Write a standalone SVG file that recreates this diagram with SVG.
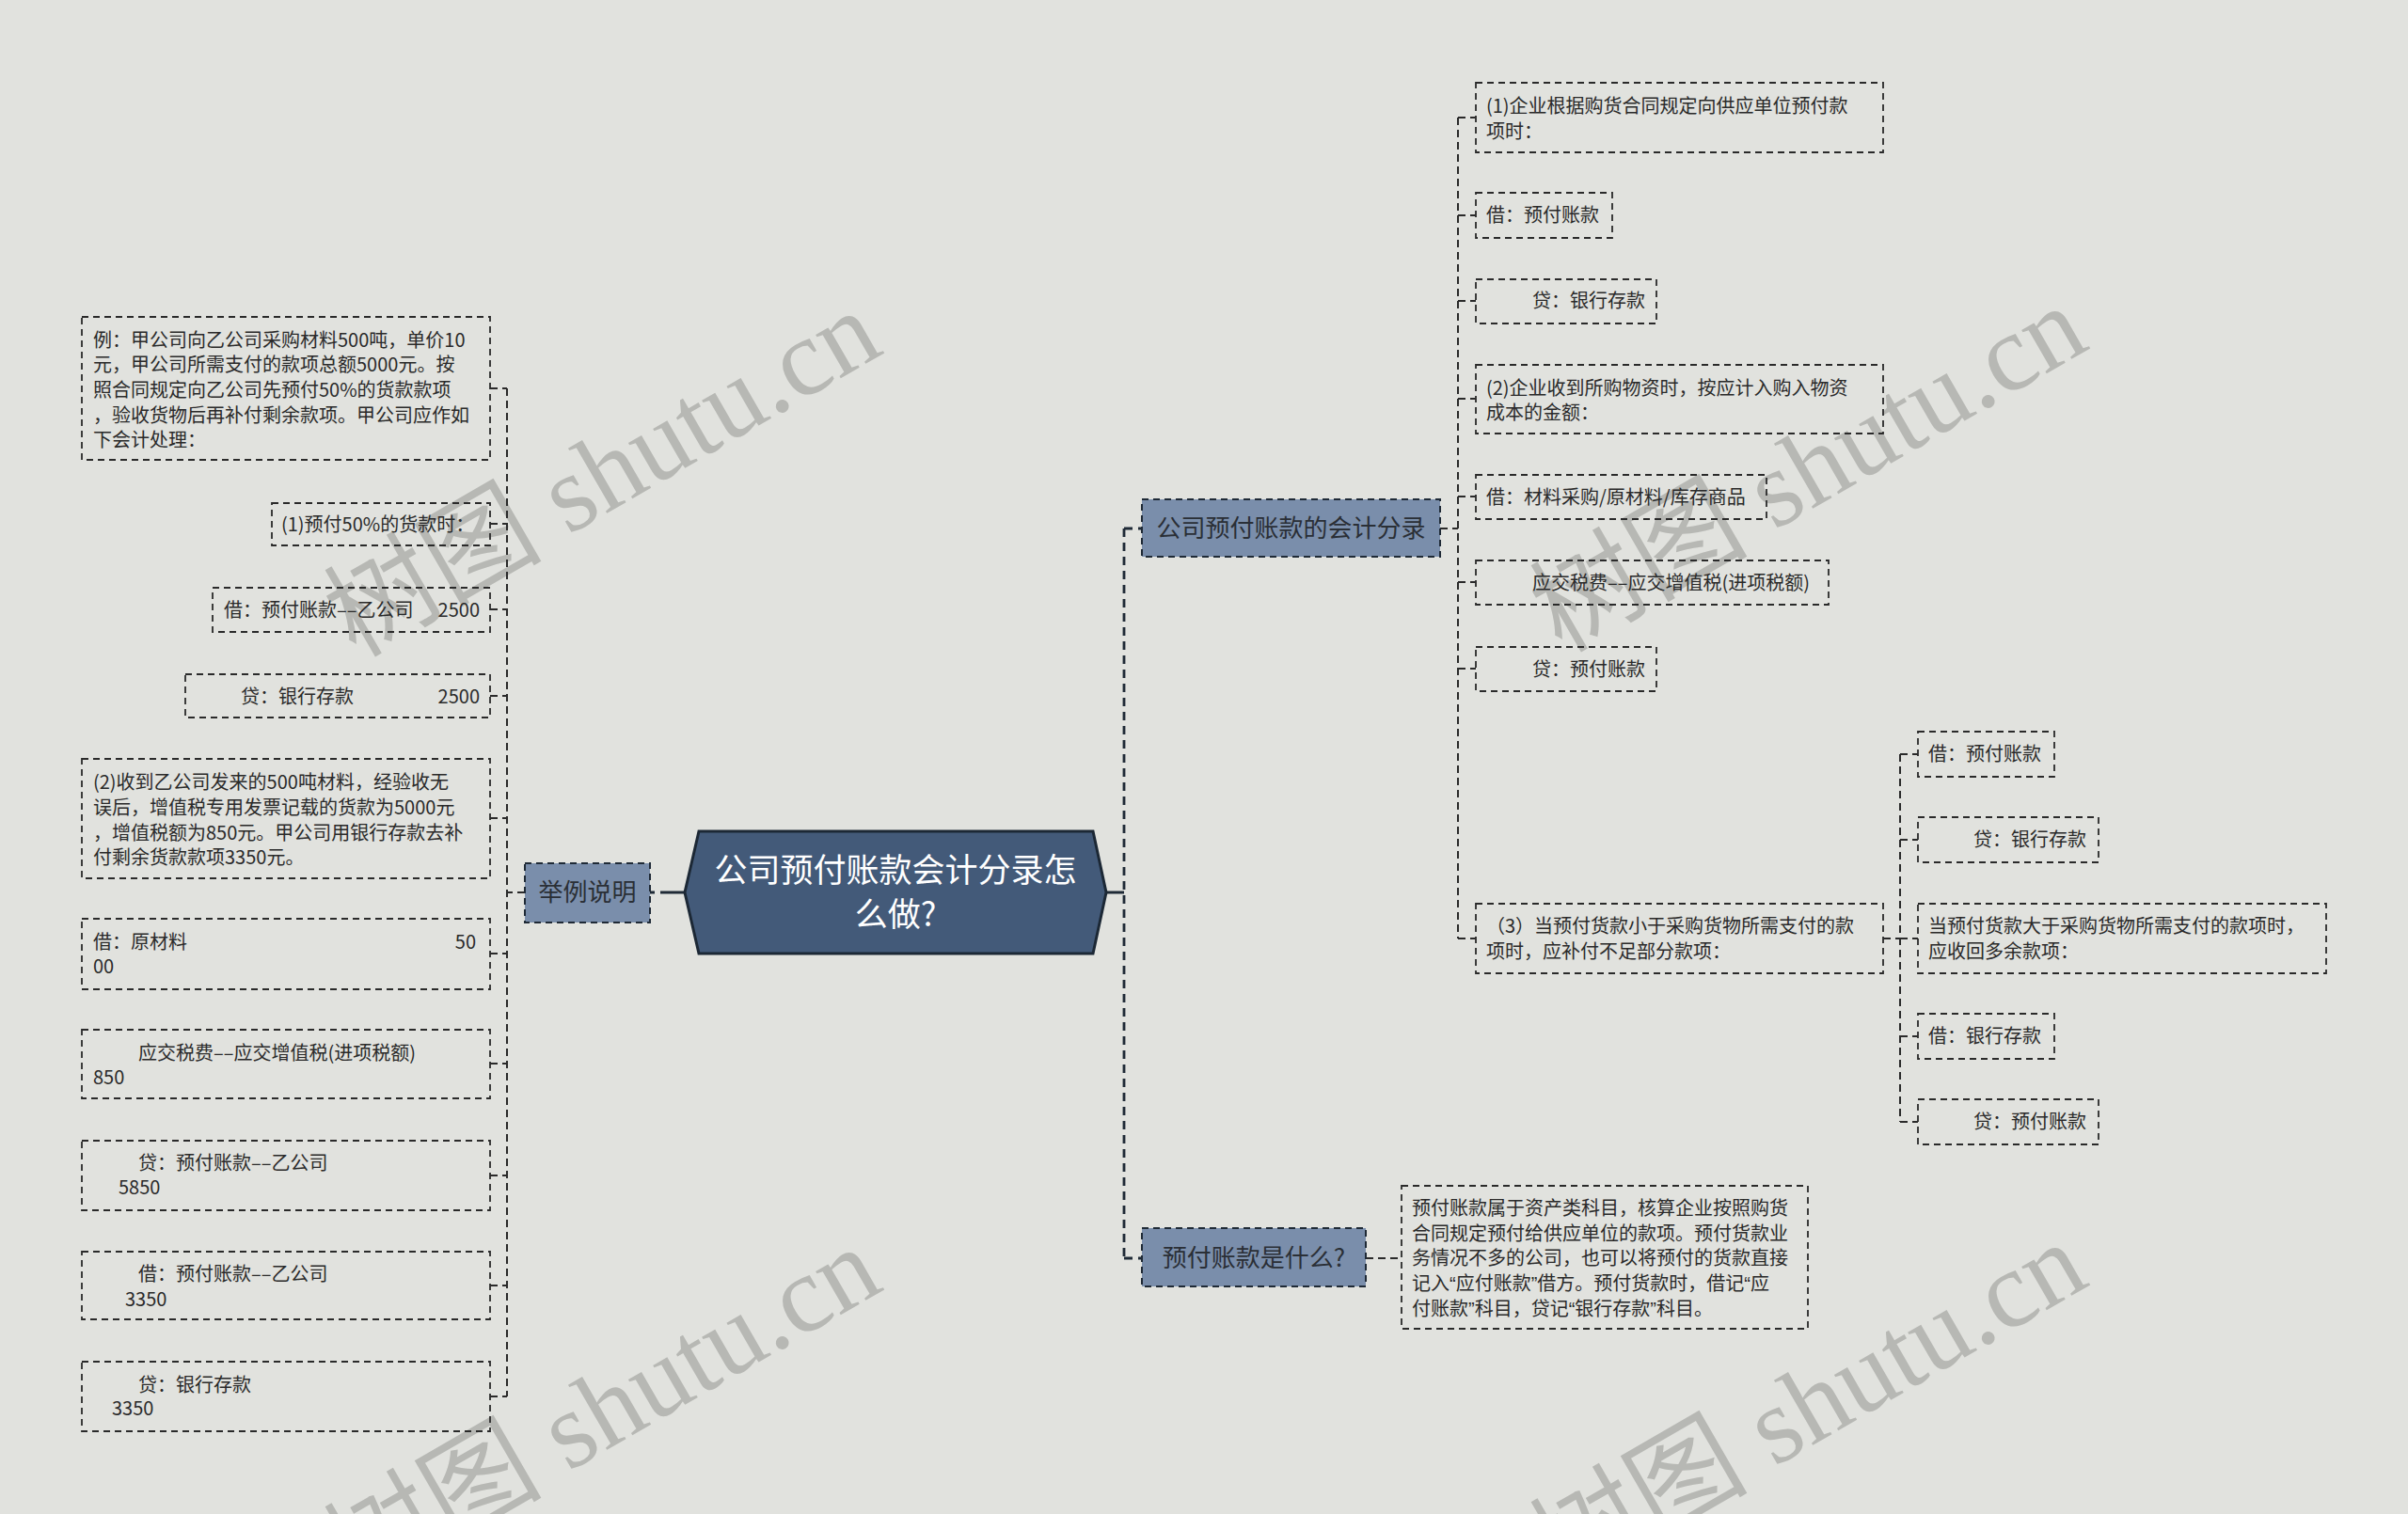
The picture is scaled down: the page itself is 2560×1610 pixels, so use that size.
<svg xmlns="http://www.w3.org/2000/svg" width="2560" height="1610" viewBox="0 0 2560 1610">
<style>
.bg{fill:#e1e2de}
.wm{font-family:"Liberation Serif","Noto Sans CJK SC",serif;font-size:116px;fill:#b7b8b4}
.leaf{fill:none;stroke:#2a2a2a;stroke-width:1.8;stroke-dasharray:7 5}
.t{font-family:"Noto Sans CJK SC","Noto Sans",sans-serif;font-size:20px;fill:#2a2a2a}
.q{font-family:"Liberation Sans",sans-serif}
.sub{fill:#7a8eab;stroke:#1f2a36;stroke-width:2;stroke-dasharray:7 5}
.st{font-family:"Noto Sans CJK SC","Noto Sans",sans-serif;font-size:26px;fill:#2a2f36;text-anchor:middle}
.root{fill:#435a79;stroke:#1c2835;stroke-width:3}
.rt{font-family:"Noto Sans CJK SC","Noto Sans",sans-serif;font-size:35px;fill:#ffffff;text-anchor:middle}
.c{fill:none;stroke:#2a2a2a;stroke-width:2;stroke-dasharray:8 5}
.cm{fill:none;stroke:#1f2a36;stroke-width:2.8;stroke-dasharray:9 6}
.cs{fill:none;stroke:#1f2a36;stroke-width:3}
</style>
<rect class="bg" x="0" y="0" width="2560" height="1610"/>
<g id="watermarks">
<text class="wm" transform="translate(378,700) rotate(-30)">树图 shutu.cn</text>
<text class="wm" transform="translate(1660,695) rotate(-30)">树图 shutu.cn</text>
<text class="wm" transform="translate(378,1696) rotate(-30)">树图 shutu.cn</text>
<text class="wm" transform="translate(1660,1691) rotate(-30)">树图 shutu.cn</text>
</g>
<g id="connectors">
<path class="cm" d="M1195,562 V1338 M1195,562 H1214 M1195,1338 H1214"/>
<path class="cs" d="M1176,949 H1195"/>
<path class="cs" d="M691,949 H728" style="stroke-dasharray:5 6 40"/>
<path class="c" d="M539,413 V1485 M558,949 H539"/>
<path class="c" d="M521,413 H539 M521,557 H539 M521,648 H539 M521,740 H539 M521,870 H539 M521,1014 H539 M521,1131 H539 M521,1250 H539 M521,1367 H539 M521,1485 H539"/>
<path class="c" d="M1531,562 H1550 M1550,125 V998 M1550,125 H1569 M1550,229 H1569 M1550,320 H1569 M1550,424 H1569 M1550,528 H1569 M1550,619 H1569 M1550,711 H1569 M1550,998 H1569"/>
<path class="c" d="M2002,998 H2020 M2020,802 V1193 M2020,802 H2039 M2020,893 H2039 M2020,998 H2039 M2020,1102 H2039 M2020,1193 H2039"/>
<path class="c" d="M1452,1338 H1490"/>
</g>
<g id="root">
<polygon class="root" points="728,949 743,884 1162,884 1176,949 1162,1014 743,1014"/>
<text class="rt" x="952" y="938">公司预付账款会计分录怎</text>
<text class="rt" x="952" y="985">么做?</text>
</g>
<g id="n-example">
<rect class="sub" x="558" y="918" width="133" height="63"/>
<text class="st" x="624.5" y="958">举例说明</text>
</g>
<g id="n-entries">
<rect class="sub" x="1214" y="531" width="317" height="61"/>
<text class="st" x="1372.5" y="571">公司预付账款的会计分录</text>
</g>
<g id="n-what">
<rect class="sub" x="1214" y="1306" width="238" height="62"/>
<text class="st" x="1333" y="1347">预付账款是什么?</text>
</g>
<g id="l1">
<rect class="leaf" x="87" y="337" width="434" height="152"/>
<text class="t"><tspan x="99" y="369">例：甲公司向乙公司采购材料500吨，单价10</tspan><tspan x="99" y="395">元，甲公司所需支付的款项总额5000元。按</tspan><tspan x="99" y="422">照合同规定向乙公司先预付50%的货款款项</tspan><tspan x="99" y="449">，验收货物后再补付剩余款项。甲公司应作如</tspan><tspan x="99" y="475">下会计处理：</tspan></text>
</g>
<g id="l2">
<rect class="leaf" x="289" y="535" width="232" height="45"/>
<text class="t" x="299" y="565">(1)预付50%的货款时：</text>
</g>
<g id="l3">
<rect class="leaf" x="226" y="625" width="295" height="47"/>
<text class="t"><tspan x="238" y="656">借：预付账款––乙公司</tspan><tspan x="510" y="656" text-anchor="end">2500</tspan></text>
</g>
<g id="l4">
<rect class="leaf" x="197" y="717" width="324" height="46"/>
<text class="t"><tspan x="256" y="748">贷：银行存款</tspan><tspan x="510" y="748" text-anchor="end">2500</tspan></text>
</g>
<g id="l5">
<rect class="leaf" x="87" y="807" width="434" height="127"/>
<text class="t"><tspan x="99" y="839">(2)收到乙公司发来的500吨材料，经验收无</tspan><tspan x="99" y="866">误后，增值税专用发票记载的货款为5000元</tspan><tspan x="99" y="893">，增值税额为850元。甲公司用银行存款去补</tspan><tspan x="99" y="919">付剩余货款款项3350元。</tspan></text>
</g>
<g id="l6">
<rect class="leaf" x="87" y="977" width="434" height="75"/>
<text class="t"><tspan x="99" y="1009">借：原材料</tspan><tspan x="506" y="1009" text-anchor="end">50</tspan><tspan x="99" y="1035">00</tspan></text>
</g>
<g id="l7">
<rect class="leaf" x="87" y="1095" width="434" height="73"/>
<text class="t"><tspan x="147" y="1127">应交税费––应交增值税(进项税额)</tspan><tspan x="99" y="1153">850</tspan></text>
</g>
<g id="l8">
<rect class="leaf" x="87" y="1213" width="434" height="74"/>
<text class="t"><tspan x="147" y="1244">贷：预付账款––乙公司</tspan><tspan x="126" y="1270">5850</tspan></text>
</g>
<g id="l9">
<rect class="leaf" x="87" y="1331" width="434" height="72"/>
<text class="t"><tspan x="147" y="1362">借：预付账款––乙公司</tspan><tspan x="133" y="1389">3350</tspan></text>
</g>
<g id="l10">
<rect class="leaf" x="87" y="1448" width="434" height="74"/>
<text class="t"><tspan x="147" y="1480">贷：银行存款</tspan><tspan x="119" y="1505">3350</tspan></text>
</g>
<g id="r1">
<rect class="leaf" x="1569" y="88" width="433" height="74"/>
<text class="t"><tspan x="1580" y="120">(1)企业根据购货合同规定向供应单位预付款</tspan><tspan x="1580" y="147">项时：</tspan></text>
</g>
<g id="r2">
<rect class="leaf" x="1569" y="205" width="145" height="48"/>
<text class="t" x="1580" y="236">借：预付账款</text>
</g>
<g id="r3">
<rect class="leaf" x="1569" y="297" width="192" height="47"/>
<text class="t" x="1629" y="327">贷：银行存款</text>
</g>
<g id="r4">
<rect class="leaf" x="1569" y="388" width="433" height="73"/>
<text class="t"><tspan x="1580" y="420">(2)企业收到所购物资时，按应计入购入物资</tspan><tspan x="1580" y="446">成本的金额：</tspan></text>
</g>
<g id="r5">
<rect class="leaf" x="1569" y="505" width="309" height="47"/>
<text class="t" x="1580" y="536">借：材料采购/原材料/库存商品</text>
</g>
<g id="r6">
<rect class="leaf" x="1569" y="596" width="375" height="47"/>
<text class="t" x="1629" y="627">应交税费––应交增值税(进项税额)</text>
</g>
<g id="r7">
<rect class="leaf" x="1569" y="688" width="192" height="47"/>
<text class="t" x="1629" y="719">贷：预付账款</text>
</g>
<g id="r8">
<rect class="leaf" x="1569" y="961" width="433" height="74"/>
<text class="t"><tspan x="1580" y="992">（3）当预付货款小于采购货物所需支付的款</tspan><tspan x="1580" y="1019">项时，应补付不足部分款项：</tspan></text>
</g>
<g id="r9">
<rect class="leaf" x="2039" y="778" width="145" height="48"/>
<text class="t" x="2050" y="809">借：预付账款</text>
</g>
<g id="r10">
<rect class="leaf" x="2039" y="869" width="192" height="48"/>
<text class="t" x="2098" y="900">贷：银行存款</text>
</g>
<g id="r11">
<rect class="leaf" x="2039" y="961" width="434" height="74"/>
<text class="t"><tspan x="2050" y="992">当预付货款大于采购货物所需支付的款项时，</tspan><tspan x="2050" y="1019">应收回多余款项：</tspan></text>
</g>
<g id="r12">
<rect class="leaf" x="2039" y="1078" width="145" height="48"/>
<text class="t" x="2050" y="1109">借：银行存款</text>
</g>
<g id="r13">
<rect class="leaf" x="2039" y="1169" width="192" height="48"/>
<text class="t" x="2098" y="1200">贷：预付账款</text>
</g>
<g id="d1">
<rect class="leaf" x="1490" y="1261" width="432" height="152"/>
<text class="t"><tspan x="1501" y="1292">预付账款属于资产类科目，核算企业按照购货</tspan><tspan x="1501" y="1319">合同规定预付给供应单位的款项。预付货款业</tspan><tspan x="1501" y="1345">务情况不多的公司，也可以将预付的货款直接</tspan><tspan x="1501" y="1372">记入<tspan class="q">“</tspan>应付账款<tspan class="q">”</tspan>借方。预付货款时，借记<tspan class="q">“</tspan>应</tspan><tspan x="1501" y="1399">付账款<tspan class="q">”</tspan>科目，贷记<tspan class="q">“</tspan>银行存款<tspan class="q">”</tspan>科目。</tspan></text>
</g>
</svg>
